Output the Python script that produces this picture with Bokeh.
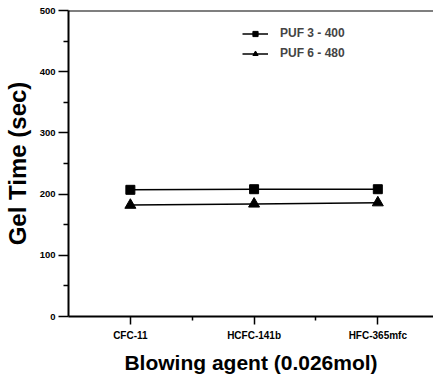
from bokeh.plotting import figure
from bokeh.models import FixedTicker, Range1d, Span, Legend, LegendItem
from bokeh.embed import file_html
from bokeh.resources import INLINE

categories = ["CFC-11", "HCFC-141b", "HFC-365mfc"]
x_pos = [1, 2, 3]
puf3_400 = [207, 208, 208]
puf6_480 = [182, 184, 186]
y_ticks = [0, 100, 200, 300, 400, 500]
y_minor = [50, 150, 250, 350, 450]

p = figure(width=433, height=378, output_backend="svg", toolbar_location=None,
           x_range=Range1d(0.5, 3.45), y_range=Range1d(0, 500),
           min_border_left=67, min_border_right=0, min_border_top=10, min_border_bottom=62)
p.outline_line_color = None
p.xgrid.visible = False
p.ygrid.visible = False
p.background_fill_color = "white"

l1 = p.line(x_pos, puf3_400, line_color="black", line_width=1.5)
s1 = p.scatter(x_pos, puf3_400, marker="square", size=9, fill_color="black", line_color="black")
l2 = p.line(x_pos, puf6_480, line_color="black", line_width=1.5)
s2 = p.scatter(x_pos, puf6_480, marker="triangle", size=11, fill_color="black", line_color="black")

top = Span(location=500, dimension="width", line_color="black", line_width=2)
p.add_layout(top)

xa = p.xaxis[0]
xa.ticker = FixedTicker(ticks=x_pos, minor_ticks=[1.5, 2.5])
xa.major_label_overrides = {i: c for i, c in zip(x_pos, categories)}
ya = p.yaxis[0]
ya.ticker = FixedTicker(ticks=y_ticks, minor_ticks=y_minor)

for ax in (xa, ya):
    ax.axis_line_width = 2
    ax.axis_line_color = "black"
    ax.major_tick_line_width = 1.5
    ax.minor_tick_line_width = 1.5
    ax.major_tick_in = 0
    ax.minor_tick_in = 0
    ax.major_label_text_font = "Liberation Sans"
    ax.major_label_text_font_style = "bold"
    ax.major_label_text_color = "black"
    ax.axis_label_text_font = "Liberation Sans"
    ax.axis_label_text_font_style = "bold"
    ax.axis_label_text_color = "black"

xa.major_tick_out = 8
xa.minor_tick_out = 4
xa.major_label_text_font_size = "10px"
xa.major_label_standoff = 5
xa.axis_label = "Blowing agent (0.026mol)"
xa.axis_label_text_font_size = "21px"
xa.axis_label_standoff = 7

ya.major_tick_out = 10
ya.minor_tick_out = 5
ya.major_label_text_font_size = "9.5px"
ya.major_label_standoff = 3
ya.axis_label = "Gel Time (sec)"
ya.axis_label_text_font_size = "24px"
ya.axis_label_standoff = 6

legend = Legend(items=[LegendItem(label="PUF 3 - 400", renderers=[l1, s1]),
                       LegendItem(label="PUF 6 - 480", renderers=[l2, s2])],
                location=(174, 256))
legend.border_line_color = None
legend.background_fill_alpha = 0
legend.padding = 0
legend.margin = 0
legend.spacing = 6
legend.glyph_width = 26
legend.glyph_height = 13
legend.label_standoff = 12
legend.label_text_font = "Liberation Sans"
legend.label_text_font_style = "bold"
legend.label_text_font_size = "12px"
legend.label_height = 13
p.add_layout(legend, "center")

open("out.html", "w").write(file_html(p, INLINE))
